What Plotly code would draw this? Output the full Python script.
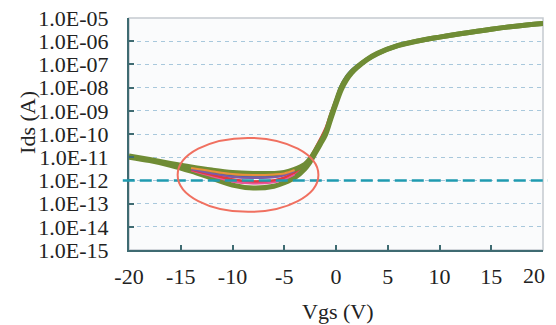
import plotly.graph_objects as go

# Gate voltage (V)
vgs = [-20, -18, -16, -14, -12, -10, -8, -6, -5, -4, -3, -2.5, -2, -1.5, -1,
       -0.5, 0, 0.5, 1, 1.5, 2, 3, 4, 6, 8, 10, 12, 15, 18, 20]

# Drain current (A) for the overlapping device curves
ids_green_hi = [1.12e-11, 7.9e-12, 5.4e-12, 3.8e-12, 2.8e-12, 2.2e-12, 2.0e-12, 2.0e-12, 2.2e-12, 3.0e-12,
                5.0e-12, 8.5e-12, 1.9e-11, 4.5e-11, 1.15e-10, 5.6e-10, 2.5e-09, 1.0e-08, 2.5e-08, 4.7e-08,
                7.6e-08, 1.66e-07, 3.0e-07, 6.6e-07, 1.05e-06, 1.5e-06, 2.1e-06, 3.3e-06, 4.8e-06, 5.75e-06]
ids_green_lo = [1.0e-11, 7.1e-12, 4.5e-12, 2.5e-12, 1.26e-12, 6.3e-13, 4.7e-13, 5.6e-13, 7.9e-13, 1.3e-12,
                3.2e-12, 6.3e-12, 1.5e-11, 3.7e-11, 9.5e-11, 4.5e-10, 2.0e-09, 8.0e-09, 2.1e-08, 4.2e-08,
                7.0e-08, 1.58e-07, 2.9e-07, 6.4e-07, 1.03e-06, 1.5e-06, 2.1e-06, 3.3e-06, 4.8e-06, 5.75e-06]
ids_orange =   [1.1e-11, 7.6e-12, 5.0e-12, 3.4e-12, 2.5e-12, 1.9e-12, 1.7e-12, 1.8e-12, 2.0e-12, 2.8e-12,
                4.8e-12, 8.3e-12, 1.9e-11, 4.6e-11, 1.2e-10, 5.6e-10, 2.5e-09, 1.0e-08, 2.5e-08, 4.7e-08,
                7.6e-08, 1.66e-07, 3.0e-07, 6.6e-07, 1.05e-06, 1.5e-06, 2.1e-06, 3.3e-06, 4.8e-06, 5.75e-06]
ids_blue =     [1.05e-11, 7.4e-12, 4.8e-12, 3.1e-12, 2.2e-12, 1.7e-12, 1.5e-12, 1.6e-12, 1.9e-12, 2.8e-12,
                5.0e-12, 8.8e-12, 2.0e-11, 5.0e-11, 1.4e-10, 7.0e-10, 3.2e-09, 1.3e-08, 3.1e-08, 5.6e-08,
                8.5e-08, 1.75e-07, 3.0e-07, 6.6e-07, 1.05e-06, 1.5e-06, 2.1e-06, 3.3e-06, 4.8e-06, 5.75e-06]
ids_purple =   [1.05e-11, 7.3e-12, 4.7e-12, 3.0e-12, 2.0e-12, 1.45e-12, 1.3e-12, 1.4e-12, 1.7e-12, 2.5e-12,
                4.5e-12, 8.0e-12, 1.8e-11, 4.5e-11, 1.15e-10, 5.6e-10, 2.5e-09, 1.0e-08, 2.5e-08, 4.7e-08,
                7.6e-08, 1.66e-07, 3.0e-07, 6.6e-07, 1.05e-06, 1.5e-06, 2.1e-06, 3.3e-06, 4.8e-06, 5.75e-06]
ids_red =      [1.05e-11, 7.2e-12, 4.6e-12, 2.8e-12, 1.7e-12, 1.1e-12, 9.0e-13, 1.0e-12, 1.3e-12, 2.2e-12,
                4.8e-12, 9.5e-12, 2.4e-11, 6.3e-11, 1.8e-10, 8.0e-10, 3.2e-09, 1.2e-08, 2.8e-08, 5.0e-08,
                7.9e-08, 1.66e-07, 3.0e-07, 6.6e-07, 1.05e-06, 1.5e-06, 2.1e-06, 3.3e-06, 4.8e-06, 5.75e-06]
ids_pink =     [1.02e-11, 7.2e-12, 4.6e-12, 2.7e-12, 1.5e-12, 9.0e-13, 7.5e-13, 8.5e-13, 1.1e-12, 1.8e-12,
                4.0e-12, 7.6e-12, 1.7e-11, 4.3e-11, 1.1e-10, 5.3e-10, 2.4e-09, 9.5e-09, 2.4e-08, 4.6e-08,
                7.5e-08, 1.66e-07, 3.0e-07, 6.6e-07, 1.05e-06, 1.5e-06, 2.1e-06, 3.3e-06, 4.8e-06, 5.75e-06]

# Reference level and tick labels
ref_level = 1e-12
ytick_vals = [1e-5, 1e-6, 1e-7, 1e-8, 1e-9, 1e-10, 1e-11, 1e-12, 1e-13, 1e-14, 1e-15]
ytick_text = ["1.0E-05", "1.0E-06", "1.0E-07", "1.0E-08", "1.0E-09", "1.0E-10",
              "1.0E-11", "1.0E-12", "1.0E-13", "1.0E-14", "1.0E-15"]
xtick_vals = [-20, -15, -10, -5, 0, 5, 10, 15, 20]
xtick_text = ["-20", "-15", "-10", "-5", "0", "5", "10", "15", "20"]

# Highlighted region (ellipse bounds, data units)
ell_x = [-15.3, -1.7]
ell_y = [4.4e-14, 6.8e-11]

FONT = "Liberation Serif"
AXIS_COL = "#3f6b72"
GREEN = "#6f8c35"
TXT = "#222222"

fig = go.Figure()

colored = [
    (ids_purple, "#7d5ba6"),
    (ids_blue, "#3a62b0"),
    (ids_orange, "#e8913a"),
    (ids_pink, "#e8559a"),
    (ids_red, "#e03a3e"),
]
for ys, col in colored:
    fig.add_trace(go.Scatter(x=vgs, y=ys, mode="lines", line=dict(color=col, width=2.5, shape="spline"),
                             showlegend=False, hoverinfo="skip"))
fig.add_trace(go.Scatter(x=vgs, y=ids_green_lo, mode="lines", line=dict(color=GREEN, width=5, shape="spline"),
                         showlegend=False, hoverinfo="skip"))
fig.add_trace(go.Scatter(x=vgs, y=ids_green_hi, mode="lines", line=dict(color=GREEN, width=5, shape="spline"),
                         showlegend=False, hoverinfo="skip"))
for ys, col in [(ids_pink, "#e8559a"), (ids_red, "#e03a3e"), (ids_purple, "#7d5ba6"), (ids_orange, "#e8913a")]:
    fig.add_trace(go.Scatter(x=vgs[3:10], y=ys[3:10], mode="lines",
                             line=dict(color=col, width=2, shape="spline"), showlegend=False, hoverinfo="skip"))

# frame (top/right light border)
fig.add_shape(type="rect", xref="paper", yref="paper", x0=0, x1=1, y0=0, y1=1,
              line=dict(color="#c5cacf", width=1.5), layer="below")
# dashed reference line
fig.add_shape(type="line", xref="paper", yref="y", x0=-0.015, x1=1.012, y0=ref_level, y1=ref_level,
              line=dict(color="#1f9bb0", width=2.5, dash="12px,5px"))
# ellipse
fig.add_shape(type="circle", xref="x", yref="y", x0=ell_x[0], x1=ell_x[1], y0=ell_y[0], y1=ell_y[1],
              line=dict(color="#f07060", width=2))

# page body has an 8px default margin, so figure margins are compensated
fig.update_layout(
    width=548, height=317,
    margin=dict(l=121, r=13, t=10, b=75, autoexpand=False),
    paper_bgcolor="white",
    plot_bgcolor="#fafbfc",
    font=dict(family=FONT, size=22, color=TXT),
    showlegend=False,
)
# last x tick label is drawn as an annotation so it stays inside the visible window
axis_ticktext = xtick_text[:-1] + [""]
fig.update_xaxes(
    range=[-20, 20], tickvals=xtick_vals, ticktext=axis_ticktext,
    showgrid=False, zeroline=False, automargin=False,
    showline=True, linecolor=AXIS_COL, linewidth=2,
    ticks="inside", ticklen=5, tickwidth=1.5, tickcolor=AXIS_COL,
    ticklabelstandoff=6, ticklabeloverflow="allow",
    tickfont=dict(family=FONT, size=22, color=TXT),
)
fig.add_annotation(text=xtick_text[-1], xref="x", yref="paper", x=xtick_vals[-1], y=-0.112,
                   xanchor="right", yanchor="middle", xshift=4, showarrow=False,
                   font=dict(family=FONT, size=22, color=TXT))
fig.update_yaxes(
    type="log", range=[-15, -5], tickvals=ytick_vals, ticktext=ytick_text,
    showgrid=True, gridcolor="#a8c8dc", gridwidth=1, griddash="4px,4px",
    zeroline=False, automargin=False,
    showline=True, linecolor=AXIS_COL, linewidth=2,
    ticks="inside", ticklen=5, tickwidth=1.5, tickcolor=AXIS_COL,
    ticklabelstandoff=14, ticklabeloverflow="allow",
    tickfont=dict(family=FONT, size=22, color=TXT),
)
fig.add_annotation(text="Ids (A)", xref="paper", yref="paper", x=-0.244, y=0.552,
                   textangle=-90, showarrow=False, font=dict(family=FONT, size=22, color=TXT),
                   xanchor="center", yanchor="middle")
fig.add_annotation(text="Vgs (V)", xref="paper", yref="paper", x=0.505, y=-0.267,
                   showarrow=False, font=dict(family=FONT, size=22, color=TXT),
                   xanchor="center", yanchor="middle")

fig.write_html("out.html")
